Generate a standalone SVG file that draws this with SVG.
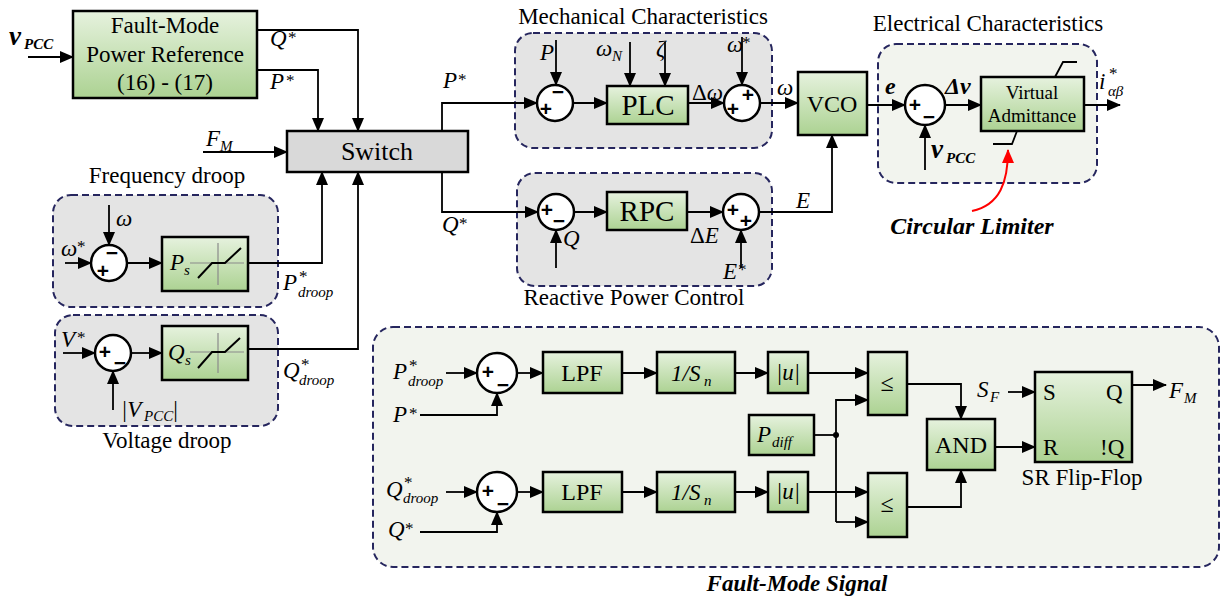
<svg xmlns="http://www.w3.org/2000/svg" width="1228" height="602" viewBox="0 0 1228 602">
<defs>
<linearGradient id="gr" x1="0" y1="0" x2="0" y2="1"><stop offset="0" stop-color="#e6f2de"/><stop offset="1" stop-color="#acd292"/></linearGradient>
<marker id="ah" markerWidth="14" markerHeight="12" refX="13" refY="6" orient="auto" markerUnits="userSpaceOnUse"><path d="M0,0 L14,6 L0,12 z" fill="#000"/></marker>
<marker id="ahr" markerWidth="14" markerHeight="12" refX="13" refY="6" orient="auto" markerUnits="userSpaceOnUse"><path d="M0,0 L14,6 L0,12 z" fill="#ff0000"/></marker>
<style>
.t{font-family:"Liberation Serif",serif;font-size:23px;fill:#000}
.va{font-family:"Liberation Serif",serif;font-size:19px;fill:#000}
.bt{font-family:"Liberation Serif",serif;font-size:24px;fill:#000}
.bl{font-family:"Liberation Serif",serif;font-size:29px;fill:#000}
.m{font-family:"Liberation Serif",serif;font-style:italic;font-size:23px;fill:#000}
.mb{font-family:"Liberation Serif",serif;font-style:italic;font-weight:bold;font-size:24px;fill:#000}
.cl{font-family:"Liberation Serif",serif;font-style:italic;font-weight:bold;font-size:24px;fill:#000}
.s{font-family:"Liberation Serif",serif;font-style:italic;font-size:15px;fill:#000}
.st{font-family:"Liberation Serif",serif;font-size:17px;fill:#000}
.sb{font-family:"Liberation Serif",serif;font-style:italic;font-weight:bold;font-size:15px;fill:#000}
.sg{font-family:"Liberation Sans",sans-serif;font-weight:bold;font-size:21px;fill:#000;text-anchor:middle;dominant-baseline:central}
.box{fill:url(#gr);stroke:#000;stroke-width:2.5}
.gbox{fill:#d9d9d9;stroke:#000;stroke-width:2.5}
.sum{fill:#fff;stroke:#000;stroke-width:2.5}
.grp{fill:#e4e4e4;stroke:#26265e;stroke-width:2;stroke-dasharray:7 4}
.grpg{fill:#f2f4ee;stroke:#26265e;stroke-width:2;stroke-dasharray:7 4}
.c{fill:none;stroke:#000;stroke-width:1.8}
.a{fill:none;stroke:#000;stroke-width:1.8;marker-end:url(#ah)}
.ax{fill:none;stroke:#8a8a8a;stroke-width:1.2}
.sat{fill:none;stroke:#000;stroke-width:2}
.mid{text-anchor:middle}
</style>
</defs>
<rect width="1228" height="602" fill="#fff"/>

<!-- groups -->
<g id="grp-freq"><rect class="grp" x="53" y="195" width="225" height="112" rx="18"/><text class="t mid" x="167" y="183">Frequency droop</text></g>
<g id="grp-volt"><rect class="grp" x="55" y="315" width="223" height="111" rx="18"/><text class="t mid" x="167" y="448">Voltage droop</text></g>
<g id="grp-mech"><rect class="grp" x="515" y="33" width="257" height="115" rx="18"/><text class="t mid" x="643" y="24">Mechanical Characteristics</text></g>
<g id="grp-rpc"><rect class="grp" x="517" y="173" width="255" height="113" rx="18"/><text class="t mid" x="634" y="305">Reactive Power Control</text></g>
<g id="grp-elec"><rect class="grpg" x="878" y="44" width="219" height="139" rx="18"/><text class="t mid" x="988" y="31">Electrical Characteristics</text></g>
<g id="grp-fault"><rect class="grpg" x="373" y="327" width="846" height="240" rx="20"/><text class="cl mid" x="797" y="591" style="font-size:23px">Fault-Mode Signal</text></g>

<!-- connectors -->
<g id="connectors">
<line class="a" x1="28" y1="57" x2="73" y2="57"/>
<polyline class="a" points="257,30 358,30 358,131"/>
<polyline class="a" points="257,70 318,70 318,131"/>
<line class="a" x1="203" y1="152" x2="287" y2="152"/>
<polyline class="a" points="248,263 322,263 322,172"/>
<polyline class="a" points="248,349 358,349 358,172"/>
<line class="a" x1="65" y1="263" x2="91" y2="263"/>
<line class="a" x1="109" y1="205" x2="109" y2="245"/>
<line class="a" x1="127" y1="263" x2="162" y2="263"/>
<line class="a" x1="63" y1="353" x2="95" y2="353"/>
<line class="a" x1="113" y1="410" x2="113" y2="371"/>
<line class="a" x1="131" y1="353" x2="162" y2="353"/>
<polyline class="a" points="442,131 442,103 537,103"/>
<polyline class="a" points="442,172 442,212 538,212"/>
<line class="a" x1="556" y1="40" x2="556" y2="85"/>
<line class="a" x1="573" y1="103" x2="607" y2="103"/>
<line class="a" x1="630" y1="42" x2="630" y2="86"/>
<line class="a" x1="665" y1="42" x2="665" y2="86"/>
<line class="a" x1="688" y1="103" x2="724" y2="103"/>
<line class="a" x1="742" y1="37" x2="742" y2="85"/>
<line class="a" x1="760" y1="103" x2="798" y2="103"/>
<line class="a" x1="574" y1="212" x2="607" y2="212"/>
<line class="a" x1="556" y1="268" x2="556" y2="230"/>
<line class="a" x1="687" y1="212" x2="723" y2="212"/>
<line class="a" x1="741" y1="268" x2="741" y2="230"/>
<polyline class="a" points="759,212 832,212 832,135"/>
<line class="a" x1="867" y1="105" x2="905" y2="105"/>
<line class="a" x1="925" y1="170" x2="925" y2="125"/>
<line class="a" x1="945" y1="105" x2="981" y2="105"/>
<line class="a" x1="1084" y1="105" x2="1120" y2="105"/>
<path d="M972,211 C1000,205 1008,182 1008,150" fill="none" stroke="#ff0000" stroke-width="2" marker-end="url(#ahr)"/>
<line class="a" x1="446" y1="373" x2="477" y2="373"/>
<polyline class="a" points="420,415 497,415 497,393"/>
<line class="a" x1="517" y1="373" x2="543" y2="373"/>
<line class="a" x1="622" y1="373" x2="657" y2="373"/>
<line class="a" x1="735" y1="373" x2="768" y2="373"/>
<line class="a" x1="808" y1="373" x2="868" y2="373"/>
<line class="a" x1="446" y1="492" x2="477" y2="492"/>
<polyline class="a" points="420,532 497,532 497,512"/>
<line class="a" x1="517" y1="492" x2="543" y2="492"/>
<line class="a" x1="622" y1="492" x2="657" y2="492"/>
<line class="a" x1="735" y1="492" x2="768" y2="492"/>
<line class="a" x1="808" y1="492" x2="868" y2="492"/>
<line class="c" x1="814" y1="435" x2="836" y2="435"/>
<polyline class="a" points="836,522 836,400 868,400"/>
<line class="a" x1="836" y1="522" x2="868" y2="522"/>
<circle cx="836" cy="435" r="3" fill="#000"/>
<polyline class="a" points="907,384 961,384 961,419"/>
<polyline class="a" points="907,507 961,507 961,470"/>
<line class="a" x1="995" y1="447" x2="1035" y2="447"/>
<line class="a" x1="1008" y1="392" x2="1035" y2="392"/>
<line class="a" x1="1132" y1="385" x2="1166" y2="385"/>
</g>

<!-- nodes -->
<g id="fmpr"><rect class="box" x="73" y="11" width="184" height="87"/>
<text class="t mid" x="165" y="33">Fault-Mode</text><text class="t mid" x="165" y="62">Power Reference</text><text class="t mid" x="165" y="90">(16) - (17)</text></g>
<g id="switch"><rect class="gbox" x="287" y="131" width="181" height="41"/><text class="bt mid" x="377" y="160" style="font-size:26px">Switch</text></g>

<g id="sum-f"><circle class="sum" cx="109" cy="263" r="18"/><text class="sg" x="112" y="252">−</text><text class="sg" x="103" y="270">+</text></g>
<g id="ps"><rect class="box" x="162" y="237" width="86" height="54"/>
<line class="ax" x1="190" y1="263" x2="244" y2="263"/><line class="ax" x1="218" y1="243" x2="218" y2="285"/>
<polyline class="sat" points="198,278 212,263 225,263 241,248"/>
<text class="m" x="170" y="270">P</text><text class="s" x="184" y="275">s</text></g>

<g id="sum-v"><circle class="sum" cx="113" cy="353" r="18"/><text class="sg" x="105" y="351">+</text><text class="sg" x="120" y="362">−</text></g>
<g id="qs"><rect class="box" x="162" y="326" width="86" height="54"/>
<line class="ax" x1="190" y1="352" x2="244" y2="352"/><line class="ax" x1="218" y1="333" x2="218" y2="373"/>
<polyline class="sat" points="198,368 212,352 225,352 240,338"/>
<text class="m" x="168" y="360">Q</text><text class="s" x="185" y="365">s</text></g>

<g id="sum-m1"><circle class="sum" cx="555" cy="103" r="18"/><text class="sg" x="546" y="108">+</text><text class="sg" x="558" y="91">−</text></g>
<g id="plc"><rect class="box" x="607" y="86" width="81" height="38"/><text class="bl mid" x="648" y="115">PLC</text></g>
<g id="sum-m2"><circle class="sum" cx="742" cy="103" r="18"/><text class="sg" x="733" y="108">+</text><text class="sg" x="748" y="94">+</text></g>
<g id="vco"><rect class="box" x="798" y="72" width="69" height="63"/><text class="bt mid" x="832" y="112">VCO</text></g>
<g id="sum-r1"><circle class="sum" cx="556" cy="212" r="18"/><text class="sg" x="547" y="209">+</text><text class="sg" x="559" y="220">−</text></g>
<g id="rpc"><rect class="box" x="607" y="192" width="80" height="38"/><text class="bl mid" x="647" y="221">RPC</text></g>
<g id="sum-r2"><circle class="sum" cx="741" cy="212" r="18"/><text class="sg" x="733" y="209">+</text><text class="sg" x="746" y="220">+</text></g>

<g id="sum-e"><circle class="sum" cx="925" cy="105" r="20"/><text class="sg" x="915" y="104">+</text><text class="sg" x="929" y="116">−</text></g>
<g id="va"><rect class="box" x="981" y="77" width="103" height="54"/>
<text class="va mid" x="1032" y="99">Virtual</text><text class="va mid" x="1032" y="122">Admittance</text>
<polyline points="1055,77 1063,62 1077,62" fill="none" stroke="#000" stroke-width="1.8"/>
<polyline points="1017,131 1012,144 993,144" fill="none" stroke="#000" stroke-width="1.8"/></g>
<text class="cl mid" x="972" y="234">Circular Limiter</text>

<g id="sum-p"><circle class="sum" cx="497" cy="373" r="20"/><text class="sg" x="488" y="371">+</text><text class="sg" x="503" y="384">−</text></g>
<g id="lpf1"><rect class="box" x="543" y="352" width="79" height="41"/><text class="bt mid" x="582" y="381">LPF</text></g>
<g id="sn1"><rect class="box" x="657" y="352" width="78" height="41"/><text class="m" x="671" y="381">1/S</text><text class="s" x="704" y="386">n</text></g>
<g id="u1"><rect class="box" x="768" y="352" width="40" height="41"/><text class="m mid" x="788" y="380">|u|</text></g>
<g id="le1"><rect class="box" x="868" y="352" width="39" height="63"/><text class="bt mid" x="887" y="391">≤</text></g>
<g id="sum-q"><circle class="sum" cx="497" cy="492" r="20"/><text class="sg" x="488" y="490">+</text><text class="sg" x="503" y="503">−</text></g>
<g id="lpf2"><rect class="box" x="543" y="472" width="79" height="40"/><text class="bt mid" x="582" y="500">LPF</text></g>
<g id="sn2"><rect class="box" x="657" y="472" width="78" height="40"/><text class="m" x="671" y="500">1/S</text><text class="s" x="704" y="505">n</text></g>
<g id="u2"><rect class="box" x="768" y="472" width="40" height="40"/><text class="m mid" x="788" y="499">|u|</text></g>
<g id="le2"><rect class="box" x="868" y="473" width="39" height="64"/><text class="bt mid" x="887" y="512">≤</text></g>
<g id="pdiff"><rect class="box" x="749" y="415" width="65" height="40"/><text class="m" x="757" y="442">P</text><text class="s" x="772" y="447">diff</text></g>
<g id="and"><rect class="box" x="927" y="419" width="68" height="51"/><text class="bt mid" x="961" y="453">AND</text></g>
<g id="sr"><rect class="box" x="1035" y="372" width="97" height="90"/>
<text class="t" x="1043" y="400">S</text><text class="t" x="1106" y="400">Q</text><text class="t" x="1043" y="455">R</text><text class="t" x="1100" y="455">!Q</text>
<text class="t mid" x="1082" y="485">SR Flip-Flop</text></g>

<!-- labels -->
<g id="labels">
<text class="mb" x="9" y="45" style="font-size:27px">v</text><text class="sb" x="24" y="49">PCC</text>
<text class="m" x="270" y="46">Q</text><text class="st" x="288" y="43">*</text>
<text class="m" x="270" y="89">P</text><text class="st" x="286" y="86">*</text>
<text class="m" x="206" y="146">F</text><text class="s" x="220" y="151">M</text>
<text class="m" x="116" y="226">ω</text>
<text class="m" x="61" y="256">ω</text><text class="st" x="77" y="252">*</text>
<text class="m" x="283" y="290">P</text><text class="st" x="299" y="282">*</text><text class="s" x="298" y="297">droop</text>
<text class="m" x="61" y="347">V</text><text class="st" x="77" y="343">*</text>
<text class="m" x="121" y="417">|V</text><text class="s" x="144" y="421">PCC</text><text class="m" x="172" y="417">|</text>
<text class="m" x="283" y="378">Q</text><text class="st" x="301" y="370">*</text><text class="s" x="299" y="385">droop</text>
<text class="m" x="443" y="88">P</text><text class="st" x="458" y="85">*</text>
<text class="m" x="442" y="232">Q</text><text class="st" x="459" y="229">*</text>
<text class="m" x="540" y="60">P</text>
<text class="m" x="596" y="56">ω</text><text class="s" x="612" y="61">N</text>
<text class="m" x="656" y="56">ζ</text>
<text class="m" x="727" y="52">ω</text><text class="st" x="742" y="48">*</text>
<text class="m" x="692" y="100"><tspan style="font-style:normal">Δ</tspan>ω</text>
<text class="m" x="777" y="95">ω</text>
<text class="m" x="563" y="246">Q</text>
<text class="m" x="690" y="243"><tspan style="font-style:normal">Δ</tspan>E</text>
<text class="m" x="723" y="279">E</text><text class="st" x="738" y="275">*</text>
<text class="m" x="796" y="208">E</text>
<text class="mb" x="885" y="94">e</text>
<text class="mb" x="945" y="94">Δv</text>
<text class="mb" x="931" y="158" style="font-size:27px">v</text><text class="sb" x="946" y="163">PCC</text>
<text class="m" x="1099" y="89">i</text><text class="st" x="1109" y="79">*</text><text class="s" x="1108" y="96">αβ</text>
<text class="m" x="393" y="379">P</text><text class="st" x="409" y="371">*</text><text class="s" x="408" y="386">droop</text>
<text class="m" x="393" y="422">P</text><text class="st" x="409" y="419">*</text>
<text class="m" x="386" y="497">Q</text><text class="st" x="404" y="488">*</text><text class="s" x="403" y="503">droop</text>
<text class="m" x="388" y="537">Q</text><text class="st" x="405" y="534">*</text>
<text class="m" x="977" y="397">S</text><text class="s" x="990" y="402">F</text>
<text class="m" x="1169" y="398">F</text><text class="s" x="1184" y="403">M</text>
</g>
</svg>
